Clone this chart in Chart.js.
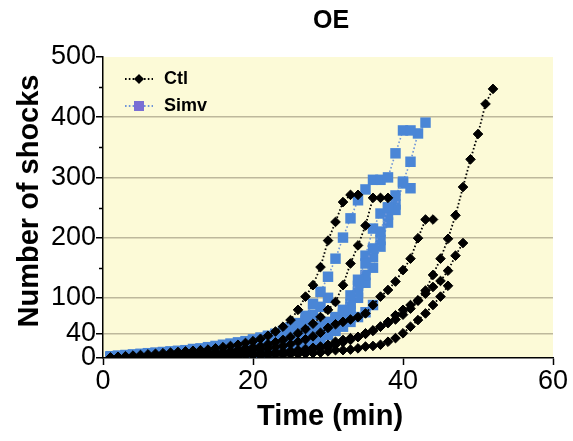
<!DOCTYPE html>
<html>
<head>
<meta charset="utf-8">
<script src="https://cdn.jsdelivr.net/npm/chart.js@4/dist/chart.umd.min.js"></script>
<style>
  html, body { margin: 0; padding: 0; background: #ffffff; }
  #wrap { width: 573px; height: 441px; position: relative; }
</style>
</head>
<body>
<div id="wrap"><canvas id="c" width="573" height="441"></canvas></div>
<script>
// ---- Data ----
const minutes = [1,2,3,4,5,6,7,8,9,10,11,12,13,14,15,16,17,18,19,20,21,22,23,24,25,26,27,28,29,30,31,32,33,34,35,36,37,38,39,40,41,42,43,44,45,46,47,48,49,50,51,52];

// Ctl animals (cumulative shocks per minute)
const ctl1 = [1,2,3,4,5,6,7,8,9,10,11,12,13,14,16,18,20,22,25,28,32,37,44,52,63,80,102,121,151,195,226,259,271,271];
const ctl2 = [0,1,1,2,2,3,3,4,5,5,6,7,8,9,10,11,12,14,16,18,20,23,26,30,35,41,48,57,68,80,93,121,157,187,220,266,266,266];
const ctl3 = [0,1,1,1,2,2,2,3,3,4,4,5,5,6,7,8,9,10,11,12,14,16,18,20,23,27,31,36,42,50,56,60,64,68,74,88,102,113,127,146,165,199,230,230];
const ctl4 = [0,0,1,1,1,1,2,2,2,2,3,3,3,4,4,5,5,6,6,7,8,9,10,11,12,13,15,17,19,22,27,30,33,35,41,46,52,60,71,80,88,96,107,118,128,145,170,191];
const ctl5 = [0,0,0,1,1,1,1,1,2,2,2,2,3,3,3,4,4,4,5,5,6,7,8,9,10,11,12,14,16,18,22,26,30,35,40,45,52,58,64,72,82,95,112,138,165,198,237,284,330,372,422,447];
const ctl6 = [0,0,0,0,0,1,1,1,1,1,1,2,2,2,2,2,3,3,3,4,4,4,5,5,6,6,7,8,9,11,13,13,14,16,19,20,22,27,33,41,52,63,74,88,102,120];

// Simv animals
const simv1 = [2,3,4,5,6,7,8,9,10,11,12,13,14,16,17,19,21,23,26,29,32,36,40,45,51,58,70,90,110,135,165,200,232,262,280,296,296,300,340,378,378];
const simv2 = [1,2,3,3,4,5,6,7,7,8,9,10,11,12,13,14,15,17,19,21,23,25,28,31,34,38,42,47,53,60,68,80,104,130,157,182,210,250,270,293,326,373,391];
const simv3 = [1,2,2,3,4,4,5,6,6,7,8,9,10,11,12,13,14,16,18,20,22,24,27,30,33,37,41,46,52,58,65,75,90,120,170,215,240,250,246,290,282];
const simv4 = [1,1,2,2,3,3,4,4,5,6,6,7,8,9,10,11,12,13,15,17,19,21,23,26,29,32,36,40,45,52,60,72,85,110,138,168,196,238];
const simv5 = [3,4,5,6,7,8,9,10,11,12,13,15,16,18,20,22,24,26,28,31,34,37,40,44,48,54,62,72,85,100];
const simv6 = [0,0,1,1,1,2,2,2,3,3,3,4,4,5,5,6,6,7,8,9,10,11,12,13,15,18,22,27,32,38,45,52,60,68,76,88];
const simv7 = [0,1,1,1,2,2,3,3,3,4,4,5,5,6,7,8,9,10,11,12,14,16,18,20,22,25,28,32,38,45,52,62,78,100,125,150,185,225,255];

const ctlSeries = [ctl1, ctl2, ctl3, ctl4, ctl5, ctl6];
const simvSeries = [simv1, simv2, simv3, simv4, simv5, simv6, simv7];

const groupNames = ['Ctl', 'Simv'];
const xTicks = [0, 20, 40, 60];
const yTicks = [0, 40, 100, 200, 300, 400, 500];
const yMinorTicks = [150, 250, 350, 450];
const gridValues = [40, 100, 200, 300, 400];

const titleText = 'OE';
const xTitle = 'Time (min)';
const yTitle = 'Number of shocks';

// ---- Styles ----
const CTL_COLOR = '#000000';
const SIMV_COLOR = '#4a86d6';
const SIMV_LINE = '#6f95d8';
const SIMV_LEGEND = '#7a6fd4';
const BG = '#fcfad7';
const GRID = '#bdb89c';
const FONT = "'Liberation Sans', Arial, Helvetica, sans-serif";

function toPoints(arr) { return arr.map((v, i) => ({ x: minutes[i], y: v })); }

const datasets = [];
ctlSeries.forEach((s, k) => datasets.push({
  label: groupNames[0] + ' ' + (k + 1),
  data: toPoints(s),
  borderColor: CTL_COLOR,
  backgroundColor: CTL_COLOR,
  borderWidth: 1.8,
  borderDash: [1.6, 2.2],
  pointStyle: 'rectRot',
  pointRadius: 4.8,
  pointBorderWidth: 1,
  pointBackgroundColor: CTL_COLOR,
  pointBorderColor: CTL_COLOR,
  tension: 0
}));
simvSeries.forEach((s, k) => datasets.push({
  label: groupNames[1] + ' ' + (k + 1),
  data: toPoints(s),
  borderColor: SIMV_LINE,
  backgroundColor: SIMV_COLOR,
  borderWidth: 1.6,
  borderDash: [1.6, 2.2],
  pointStyle: 'rect',
  pointRadius: 7.4,
  pointBorderWidth: 0,
  pointBackgroundColor: SIMV_COLOR,
  pointBorderColor: SIMV_COLOR,
  tension: 0
}));

const decor = {
  id: 'decor',
  beforeDraw(chart) {
    const { ctx, chartArea: a } = chart;
    ctx.save();
    ctx.fillStyle = BG;
    ctx.fillRect(a.left, a.top, a.right - a.left, a.bottom - a.top);
    ctx.restore();
  },
  afterDraw(chart) {
    const { ctx, chartArea: a } = chart;
    const ys = chart.scales.y;
    ctx.save();
    // minor ticks on y axis
    ctx.strokeStyle = '#000';
    ctx.lineWidth = 1.5;
    yMinorTicks.forEach(v => {
      const py = Math.round(ys.getPixelForValue(v)) + 0.5;
      ctx.beginPath();
      ctx.moveTo(a.left - 4, py);
      ctx.lineTo(a.left, py);
      ctx.stroke();
    });
    // title
    ctx.fillStyle = '#000';
    ctx.textAlign = 'center';
    ctx.textBaseline = 'middle';
    ctx.font = 'bold 25px ' + FONT;
    ctx.fillText(titleText, 331, 21);
    // x title
    ctx.font = 'bold 29px ' + FONT;
    ctx.fillText(xTitle, 330, 417);
    // y title
    ctx.save();
    ctx.translate(30, 201);
    ctx.rotate(-Math.PI / 2);
    ctx.fillText(yTitle, 0, 0);
    ctx.restore();
    // legend
    const rows = [
      { name: groupNames[0], y: 79, line: CTL_COLOR, fill: CTL_COLOR, style: 'rectRot', r: 4.8 },
      { name: groupNames[1], y: 106, line: SIMV_LINE, fill: SIMV_LEGEND, style: 'rect', r: 7 }
    ];
    rows.forEach(r => {
      ctx.save();
      ctx.strokeStyle = r.line;
      ctx.lineWidth = 1.8;
      ctx.setLineDash([1.6, 2.2]);
      ctx.beginPath();
      ctx.moveTo(125, r.y);
      ctx.lineTo(153, r.y);
      ctx.stroke();
      ctx.restore();
      ctx.fillStyle = r.fill;
      ctx.strokeStyle = r.fill;
      Chart.helpers.drawPoint(ctx, { pointStyle: r.style, radius: r.r, rotation: 0, borderWidth: 0 }, 139, r.y);
      ctx.fill();
      ctx.fillStyle = '#000';
      ctx.textAlign = 'left';
      ctx.font = 'bold 18px ' + FONT;
      ctx.fillText(r.name, 164, r.y);
    });
    ctx.restore();
  }
};

new Chart(document.getElementById('c'), {
  type: 'line',
  data: { datasets },
  options: {
    responsive: false,
    animation: false,
    devicePixelRatio: 1,
    layout: { padding: { left: 0, right: 20, top: 57, bottom: 0 } },
    plugins: { legend: { display: false }, tooltip: { enabled: false }, title: { display: false } },
    scales: {
      x: {
        type: 'linear',
        min: 0, max: 60,
        afterBuildTicks: s => { s.ticks = xTicks.map(v => ({ value: v })); },
        afterFit: s => { s.height = 83; },
        grid: { drawOnChartArea: false, drawTicks: true, tickLength: 7, tickWidth: 1.5, tickColor: '#000', color: '#000' },
        border: { display: true, color: '#000', width: 1.5 },
        ticks: { color: '#000', font: { family: FONT, size: 27 }, padding: 0, maxRotation: 0 }
      },
      y: {
        type: 'linear',
        min: 0, max: 500,
        afterBuildTicks: s => { s.ticks = yTicks.map(v => ({ value: v })); },
        afterFit: s => { s.width = 103; },
        grid: {
          drawTicks: true, tickLength: 7, tickWidth: 1.5, tickColor: '#000',
          lineWidth: 1.5,
          color: c => gridValues.includes(c.tick && c.tick.value) ? GRID : 'rgba(0,0,0,0)'
        },
        border: { display: true, color: '#000', width: 1.5 },
        ticks: { color: '#000', font: { family: FONT, size: 27 }, padding: 0 }
      }
    }
  },
  plugins: [decor]
});
</script>
</body>
</html>
